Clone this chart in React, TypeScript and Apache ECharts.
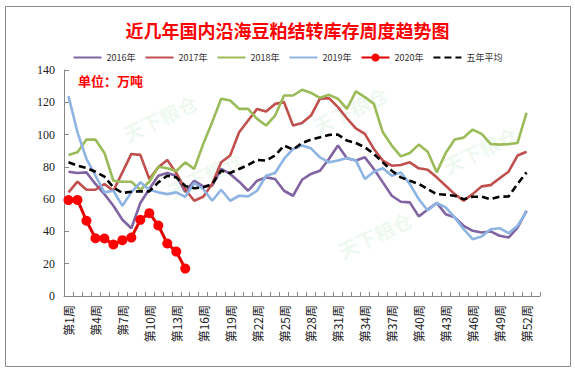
import React, { useEffect, useRef } from "react";
import * as echarts from "echarts";

const weeks: string[] = Array.from({ length: 53 }, (_, i) => `第${i + 1}周`);

const s2016 = [77, 76.2, 76.6, 69.4, 63.1, 55.9, 47.2, 42, 57.6, 66.3, 74.5, 76.2, 74.5, 64.5, 71.4, 67.9, 68.3, 78.7, 75.6, 70.8, 65.2, 71.4, 73.5, 72.5, 65.2, 62.1, 72, 75.6, 77.6, 84.9, 93.2, 85.3, 83.9, 85.9, 78.7, 70.4, 62.1, 58.4, 58, 49.3, 53.6, 57.6, 50.7, 48.7, 43.5, 40.4, 39.3, 40, 37.3, 36.2, 42.4, 52.8];
const s2017 = [64.2, 70.8, 65.8, 65.8, 69.4, 65.2, 76.6, 88, 87.4, 72.5, 79.7, 84.3, 76.2, 66, 59, 61.5, 69.4, 82.8, 87, 101.4, 108.7, 115.9, 114.3, 119, 120.1, 105.6, 107.2, 111.8, 122.2, 122.6, 117, 110.1, 103.9, 100.4, 91.1, 83.9, 80.7, 81.2, 82.8, 79.1, 78.2, 73.5, 68.3, 63.1, 59, 63.1, 67.9, 68.7, 72.9, 77, 87, 89.4];
const s2018 = [87.4, 89, 96.9, 96.9, 88.6, 71.4, 70.8, 70.8, 65.8, 70.8, 80.1, 79.1, 77.4, 82.8, 78.7, 94.2, 107.7, 122.2, 121.1, 115.9, 115.9, 109.7, 105.6, 111.8, 124.2, 124.2, 127.7, 125.9, 122.8, 124.6, 122.2, 115.9, 126.7, 123.2, 119, 101.4, 93.2, 86.5, 88.6, 93.8, 89.4, 76.6, 88.6, 96.9, 98.1, 103.1, 100.4, 94.2, 93.8, 94.2, 94.8, 113.5];
const s2019 = [123.8, 101.4, 84.9, 74.5, 64.2, 65.2, 55.9, 64.2, 70.4, 65.8, 64.2, 63.1, 64.2, 61.5, 70, 66.3, 59, 65.8, 59, 62.1, 61.7, 65.2, 74.5, 76.2, 84.9, 91.1, 93.2, 91.5, 85.9, 82.8, 83.9, 85.5, 83.9, 72.5, 77, 79.1, 74.5, 76.6, 69.4, 60, 53, 57.6, 54.9, 48.7, 41.4, 35.2, 36.9, 41.4, 42, 38.9, 43.5, 52.2];
const s2020 = [59.4, 59.5, 46.6, 35.8, 35.6, 31.9, 34.6, 36.2, 47.2, 51.3, 43.7, 32.5, 27.5, 17.0];
const sAvg = [82.8, 80.7, 79.3, 77, 73.9, 67.3, 63.8, 64.6, 64.8, 64.8, 70.4, 74.5, 73.5, 68.2, 66.7, 67.3, 69.4, 77.6, 76.2, 78.7, 81.2, 84.3, 83.9, 87, 93.2, 90.7, 94.8, 96.9, 98.3, 99.8, 100, 96.3, 94.8, 92.1, 88, 82.8, 77.6, 73.5, 71.4, 69.4, 66.2, 63.1, 62.7, 62.1, 60, 61.5, 61.5, 60, 61.5, 61.7, 69.4, 76.6];

const seriesNames = ["2016年", "2017年", "2018年", "2019年", "2020年", "五年平均"];
const yTicks = [0, 20, 40, 60, 80, 100, 120, 140];

const watermarks: [number, number][] = [
  [160, 118],
  [205, 175],
  [350, 110],
  [480, 150],
  [375, 235],
];

export default function App() {
  const ref = useRef<HTMLDivElement>(null);
  useEffect(() => {
    document.body.style.margin = "0";
    if (!ref.current) return;
    const chart = echarts.init(ref.current, null, { renderer: "svg" });
    const lineS = (name: string, data: number[], color: string, extra: any = {}) => ({
      name,
      type: "line",
      data,
      symbol: "none",
      smooth: false,
      lineStyle: { color, width: 2.6 },
      itemStyle: { color },
      z: 2,
      ...extra,
    });
    const wm: any[] = [];
    watermarks.forEach(([x, y]) => {
      wm.push({
        type: "text",
        x,
        y,
        rotation: Math.PI / 7,
        z: 0,
        silent: true,
        style: {
          text: "天下粮仓",
          fontSize: 20,
          fontWeight: "bold",
          fill: "rgba(150,215,160,0.16)",
          align: "center",
          verticalAlign: "middle",
          fontFamily: "Noto Sans CJK SC",
        },
      });
    });
    const legendData = seriesNames.map((n, i) =>
      i === 4 ? { name: n } : { name: n, itemStyle: { color: "rgba(0,0,0,0)", borderWidth: 0, opacity: 0 } }
    );
    chart.setOption({
      animation: false,
      backgroundColor: "#fff",
      title: {
        text: "近几年国内沿海豆粕结转库存周度趋势图",
        left: "center",
        top: 16,
        textStyle: {
          color: "#FF0000",
          fontSize: 18,
          fontWeight: "bold",
          fontFamily: "Noto Sans CJK SC",
        },
      },
      legend: {
        data: legendData,
        top: 48,
        left: "center",
        itemWidth: 28,
        itemHeight: 10,
        itemGap: 9,
        textStyle: { fontSize: 9, color: "#333", fontFamily: "Noto Sans CJK SC" },
      },
      graphic: [
        {
          type: "rect",
          shape: { x: 5.5, y: 6.5, width: 565, height: 360 },
          style: { fill: "none", stroke: "#8a8a8a", lineWidth: 1 },
          silent: true,
        },
        {
          type: "text",
          x: 78,
          y: 80,
          style: {
            text: "单位：万吨",
            fill: "#FF0000",
            fontSize: 13,
            fontWeight: "bold",
            fontFamily: "Noto Sans CJK SC",
            verticalAlign: "middle",
          },
        },
        ...wm,
      ],
      grid: { left: 64, right: 35, top: 70, bottom: 74, containLabel: false },
      xAxis: {
        type: "category",
        data: weeks,
        boundaryGap: true,
        axisLine: { lineStyle: { color: "#888", width: 1 } },
        axisTick: { show: true, inside: true, interval: 0, length: 4, lineStyle: { color: "#888" } },
        axisLabel: {
          interval: 2,
          rotate: 90,
          fontSize: 12,
          color: "#222",
          margin: 9,
          fontFamily: "Noto Sans CJK SC",
        },
        splitLine: { show: false },
      },
      yAxis: {
        type: "value",
        min: yTicks[0],
        max: yTicks[yTicks.length - 1],
        interval: 20,
        axisLine: { show: true, lineStyle: { color: "#888", width: 1 } },
        axisTick: { show: true, inside: true, length: 5, lineStyle: { color: "#888" } },
        axisLabel: { fontSize: 12, color: "#222", margin: 9, fontFamily: "Liberation Serif" },
        splitLine: { show: false },
      },
      series: [
        lineS(seriesNames[0], s2016, "#8064A2"),
        lineS(seriesNames[1], s2017, "#C0504D"),
        lineS(seriesNames[2], s2018, "#9BBB59"),
        lineS(seriesNames[3], s2019, "#8EB4E3"),
        lineS(seriesNames[4], s2020, "#FF0000", {
          symbol: "circle",
          symbolSize: 10,
          showSymbol: true,
          showAllSymbol: true,
          lineStyle: { color: "#E00000", width: 3 },
          itemStyle: { color: "#FF0000" },
          z: 4,
        }),
        lineS(seriesNames[5], sAvg, "#000000", {
          lineStyle: { color: "#000", width: 2.6, type: [7, 4] },
          z: 3,
        }),
      ],
    });
    return () => chart.dispose();
  }, []);
  return <div ref={ref} style={{ width: 575, height: 370 }} />;
}
